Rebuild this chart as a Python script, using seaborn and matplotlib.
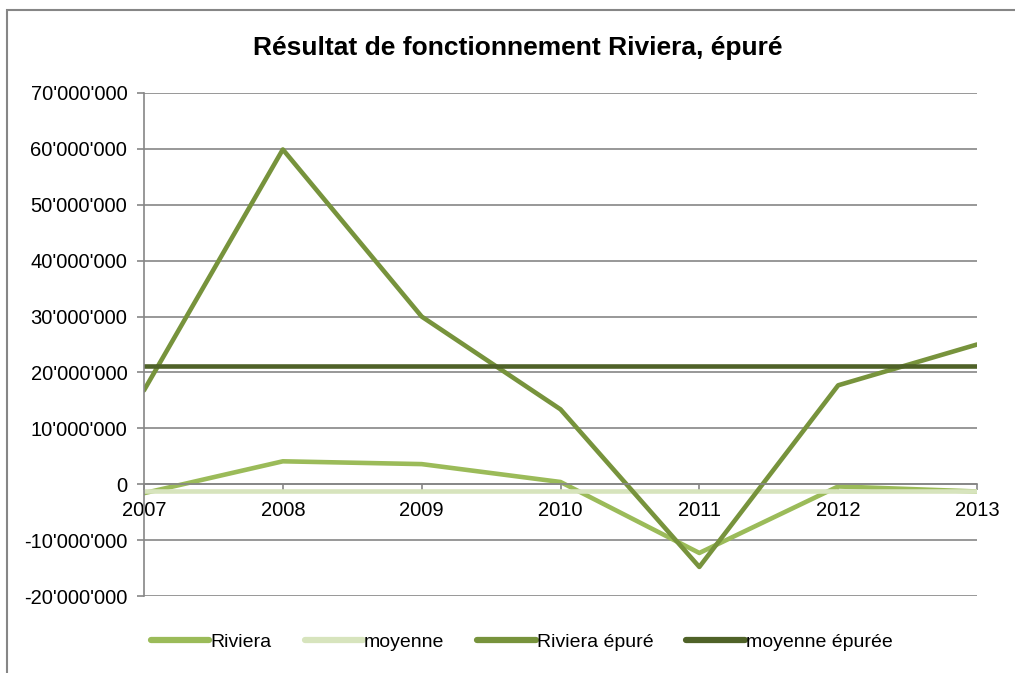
import matplotlib
matplotlib.use("Agg")
import matplotlib.pyplot as plt
import matplotlib.ticker as mticker
from matplotlib.patches import Rectangle
import pandas as pd
import seaborn as sns

years = ["2007", "2008", "2009", "2010", "2011", "2012", "2013"]
riviera = [-1.6e6, 4.1e6, 3.6e6, 0.4e6, -12.3e6, -0.4e6, -1.3e6]
moyenne = [-1.2e6] * 7
riviera_epure = [16.8e6, 59.9e6, 30.0e6, 13.4e6, -14.8e6, 17.7e6, 25.0e6]
moyenne_epuree = [21.1e6] * 7

series_names = ["Riviera", "moyenne", "Riviera épuré", "moyenne épurée"]
colors = ["#9BBB59", "#D7E4BD", "#77933C", "#4F6228"]

frames = []
for name, vals in zip(series_names, [riviera, moyenne, riviera_epure, moyenne_epuree]):
    frames.append(pd.DataFrame({"idx": range(len(years)), "value": vals, "serie": name}))
df = pd.concat(frames, ignore_index=True)

sns.set_style("white")
plt.rcParams["font.family"] = ["Liberation Sans", "DejaVu Sans"]
plt.rcParams["text.color"] = "black"
plt.rcParams["xtick.color"] = "black"
plt.rcParams["ytick.color"] = "black"

fig = plt.figure(figsize=(10.15, 6.73), dpi=100)
ax = fig.add_axes([144 / 1015, 1 - 596 / 673, (977 - 144) / 1015, (596 - 93) / 673])

# cadre du graphique (type Excel), seulement haut et gauche visibles
fig.patches.append(Rectangle((7 / 1015, -0.1), 1.2, 1 - 10 / 673 + 0.1,
                             transform=fig.transFigure, fill=False,
                             edgecolor="#868686", linewidth=1.5))

sns.lineplot(data=df, x="idx", y="value", hue="serie", hue_order=series_names,
             palette=colors, linewidth=3.3, ax=ax, legend=False)

ax.set_xlim(0, len(years) - 1)
ax.set_ylim(-20e6, 70e6)
ax.set_yticks(range(-20_000_000, 70_000_001, 10_000_000))
ax.yaxis.set_major_formatter(mticker.FuncFormatter(lambda v, _: f"{int(v):,}".replace(",", "'")))
ax.grid(axis="y", color="#868686", linewidth=1.2)
ax.set_axisbelow(True)

ax.set_xticks(range(len(years)))
ax.set_xticklabels(years)
for side in ["top", "right"]:
    ax.spines[side].set_visible(False)
ax.spines["left"].set_color("#868686")
ax.spines["left"].set_linewidth(1.2)
ax.spines["bottom"].set_position(("data", 0))
ax.spines["bottom"].set_color("#868686")
ax.spines["bottom"].set_linewidth(1.2)
ax.tick_params(axis="y", length=5, color="#868686", labelcolor="black", width=1.2,
               labelsize=14.5, pad=7, left=True)
ax.tick_params(axis="x", length=4, color="#868686", labelcolor="black", width=1.2,
               labelsize=14.5, pad=8, bottom=True)
ax.set_xlabel("")
ax.set_ylabel("")

fig.text(0.51, 1 - 48 / 673, "Résultat de fonctionnement Riviera, épuré",
         ha="center", va="center", fontsize=19, fontweight="bold", color="black")

handles = [plt.Line2D([], [], color=c, linewidth=4.5, solid_capstyle="round") for c in colors]
fig.legend(handles, series_names, loc="center", bbox_to_anchor=(0.514, 1 - 642 / 673),
           ncol=4, frameon=False, fontsize=14, handlelength=3.0, handletextpad=0.05,
           columnspacing=1.7)

fig.savefig("out.png", dpi=100)
